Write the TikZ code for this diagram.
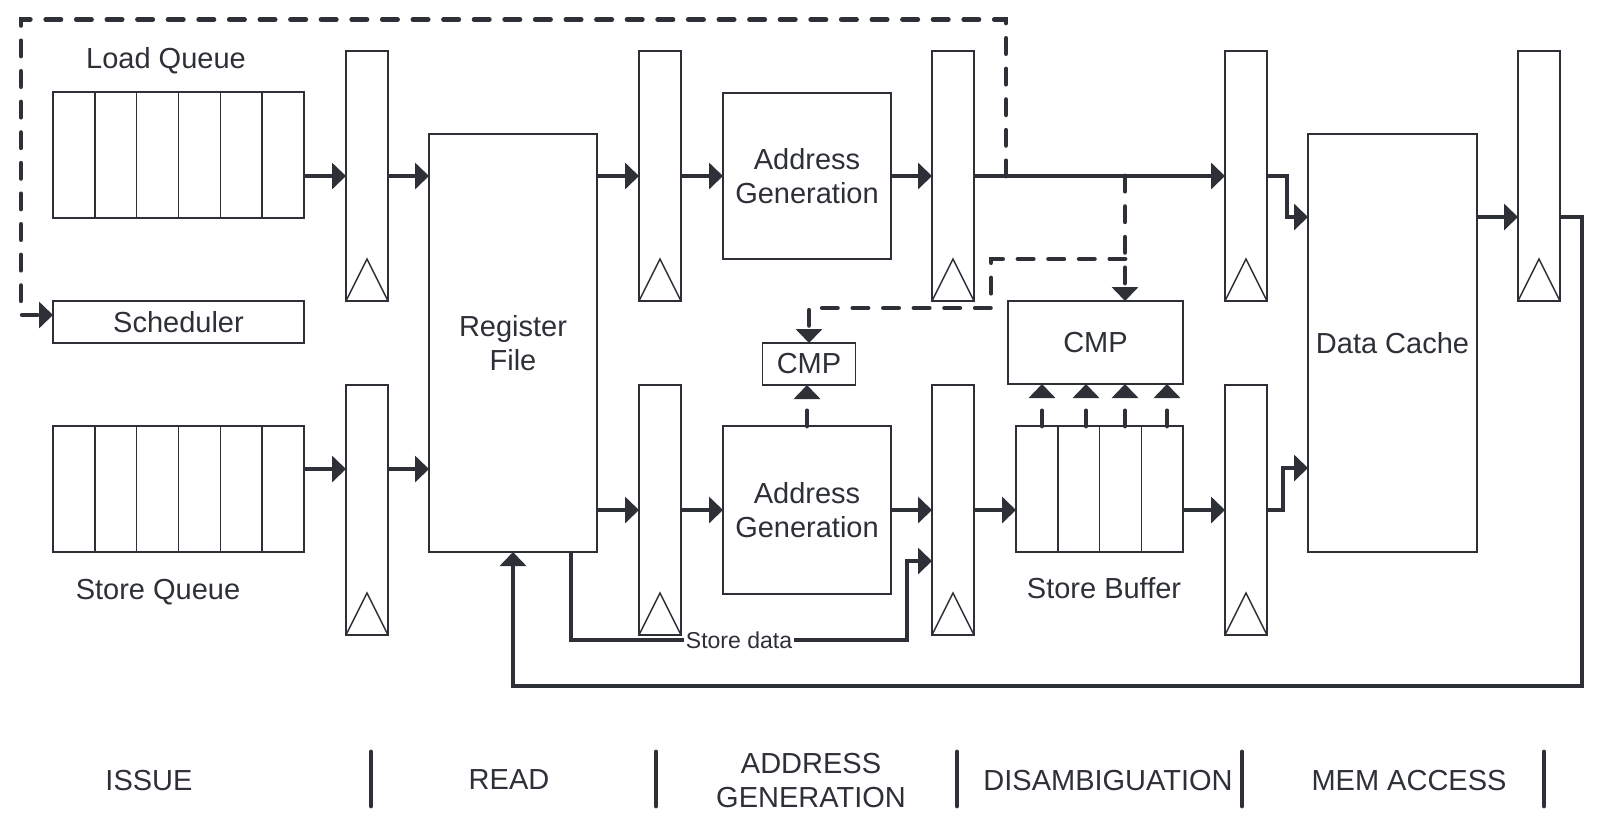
\documentclass[tikz,border=0pt]{standalone}
\usepackage{fontspec}
\setmainfont{Liberation Sans}
\usetikzlibrary{arrows.meta,calc}
\definecolor{ink}{RGB}{45,48,54}

\begin{document}
\begin{tikzpicture}[x=0.5pt,y=-0.5pt,
	font=\fontsize{14.5pt}{17pt}\selectfont,text=ink,
	box/.style={draw=ink,line width=0.75pt,inner sep=0pt,outer sep=0pt,align=center},
	preg/.style={box,minimum width=21pt,minimum height=125pt},
	flow/.style={draw=ink,line width=2.4pt,-{Triangle[length=7pt,width=13pt]}},
	probe/.style={flow,line cap=round,dash pattern=on 7.6pt off 7.7pt},
	bar/.style={draw=ink,line width=2.4pt,line cap=round}]
	
	\useasboundingbox (0,0) rectangle (1599,832);
	
	% pipeline latches
	\foreach \n/\x/\y in {r1a/367/176, r2a/660/176, r3a/953/176, r4a/1246/176, r5a/1539/176,
		r1b/367/510, r2b/660/510, r3b/953/510, r4b/1246/510}{
		\node[preg] (\n) at (\x,\y) {};
		\draw[ink,line width=0.75pt] (\n.south west) -- ([yshift=21pt]\n.south) -- (\n.south east);
	}
	
	\node[box,minimum width=125.5pt,minimum height=63pt] (lq) at (178.5,155)   {};
	\node[box,minimum width=125.5pt,minimum height=63pt] (sq) at (178.5,489)   {};
	\node[box,minimum width=125.5pt,minimum height=21pt] (sched) at (178.5,322) {Scheduler};
	\node[box,minimum width=84pt,minimum height=209pt]   (rf) at (513,343)     {Register\\File};
	\node[box,minimum width=84pt,minimum height=83pt]    (aga) at (807,176)    {Address\\Generation};
	\node[box,minimum width=84pt,minimum height=84pt]    (agb) at (807,510)    {Address\\Generation};
	\node[box,minimum width=46.5pt,minimum height=21pt]  (cmpa) at (809,364)   {CMP};
	\node[box,minimum width=87.5pt,minimum height=41.5pt] (cmpb) at (1095.5,342.5) {CMP};
	\node[box,minimum width=83.5pt,minimum height=63pt]  (sb) at (1099.5,489)  {};
	\node[box,minimum width=84.5pt,minimum height=209pt] (dc) at (1392.5,343)  {Data Cache};
	
	\foreach \i in {1,...,5}{
		\draw[ink,line width=0.75pt] ($(lq.north west)!\i/6!(lq.north east)$) -- ($(lq.south west)!\i/6!(lq.south east)$);
		\draw[ink,line width=0.75pt] ($(sq.north west)!\i/6!(sq.north east)$) -- ($(sq.south west)!\i/6!(sq.south east)$);
	}
	\foreach \i in {1,2,3}
		\draw[ink,line width=0.75pt] ($(sb.north west)!\i/4!(sb.north east)$) -- ($(sb.south west)!\i/4!(sb.south east)$);
	
	\node (lqlabel) at (166,61)   {Load Queue};
	\node (sqlabel) at (158,592)  {Store Queue};
	\node (sblabel) at (1104,588) {Store Buffer};
	
	% load path
	\draw[flow] (lq.east |- r1a.west) -- (r1a.west);
	\draw[flow] (r1a.east) -- (r1a.east -| rf.west);
	\draw[flow] (r2a.west -| rf.east) -- (r2a.west);
	\draw[flow] (r2a.east) -- (aga.west);
	\draw[flow] (aga.east) -- (r3a.west);
	\draw[flow] (r3a.east) -- (r4a.west);
	\draw[flow] (r4a.east) -- ++(10pt,0) |- ([yshift=63pt]dc.west);
	\draw[flow] ([yshift=63pt]dc.east) -- ([yshift=63pt]dc.east -| r5a.west);
	\draw[flow] ([yshift=63pt]dc.east -| r5a.east) -- ++(11pt,0) -- ++(0,-234.5pt) -| (rf.south);
	
	% store path
	\coordinate (sqo) at ([yshift=20.5pt]r1b.west);
	\draw[flow] (sqo -| sq.east) -- (sqo);
	\draw[flow] ([yshift=20.5pt]r1b.east) -- ([yshift=20.5pt]r1b.east -| rf.west);
	\draw[flow] (r2b.west -| rf.east) -- (r2b.west);
	\draw[flow] (r2b.east) -- (agb.west);
	\draw[flow] (agb.east) -- (r3b.west);
	\draw[flow] (r3b.east) -- (r3b.east -| sb.west);
	\draw[flow] (r4b.west -| sb.east) -- (r4b.west);
	\draw[flow] (r4b.east) -- ++(8pt,0) |- ([yshift=-62.5pt]dc.west);
	\coordinate (sdin) at ([yshift=-25.5pt]r3b.west);
	\draw[flow] ([xshift=-13pt]rf.south east) -- ++(0,-44pt) -| node[pos=0.25,fill=white,inner sep=1pt,font=\fontsize{11.5pt}{13pt}\selectfont] {Store data} ([xshift=-12.5pt]sdin) -- (sdin);
	
	% disambiguation checks
	\coordinate (wake) at ([xshift=16pt]r3a.east);
	\coordinate (loop) at (21,19.5);
	\draw[probe] (wake) |- (loop) |- ([yshift=3.5pt]sched.west);
	\coordinate (tap) at ([xshift=75.5pt]r3a.east);
	\coordinate (bend) at (991,308);
	\draw[probe] (tap) -- (tap |- cmpb.north);
	\draw[probe] (tap |- aga.south) -| (bend) -| (cmpa.north);
	\draw[probe] (agb.north) -- (agb.north |- cmpa.south);
	\foreach \s in {13,35,54.5,75.5}
		\draw[probe] ([xshift=\s pt]sb.north west) -- ([xshift=\s pt]sb.north west |- cmpb.south);
	
	% stages
	\foreach \x in {371,656,957,1242,1544}
		\draw[bar] (\x,752) -- (\x,806);
	\node (issue) at (149,780)  {ISSUE};
	\node (read) at (509,780)   {READ};
	\node[align=center] (agen) at (811,780) {ADDRESS\\GENERATION};
	\node (disamb) at (1108,780) {DISAMBIGUATION};
	\node (mem) at (1409,780)   {MEM ACCESS};
	
\end{tikzpicture}
\end{document}
